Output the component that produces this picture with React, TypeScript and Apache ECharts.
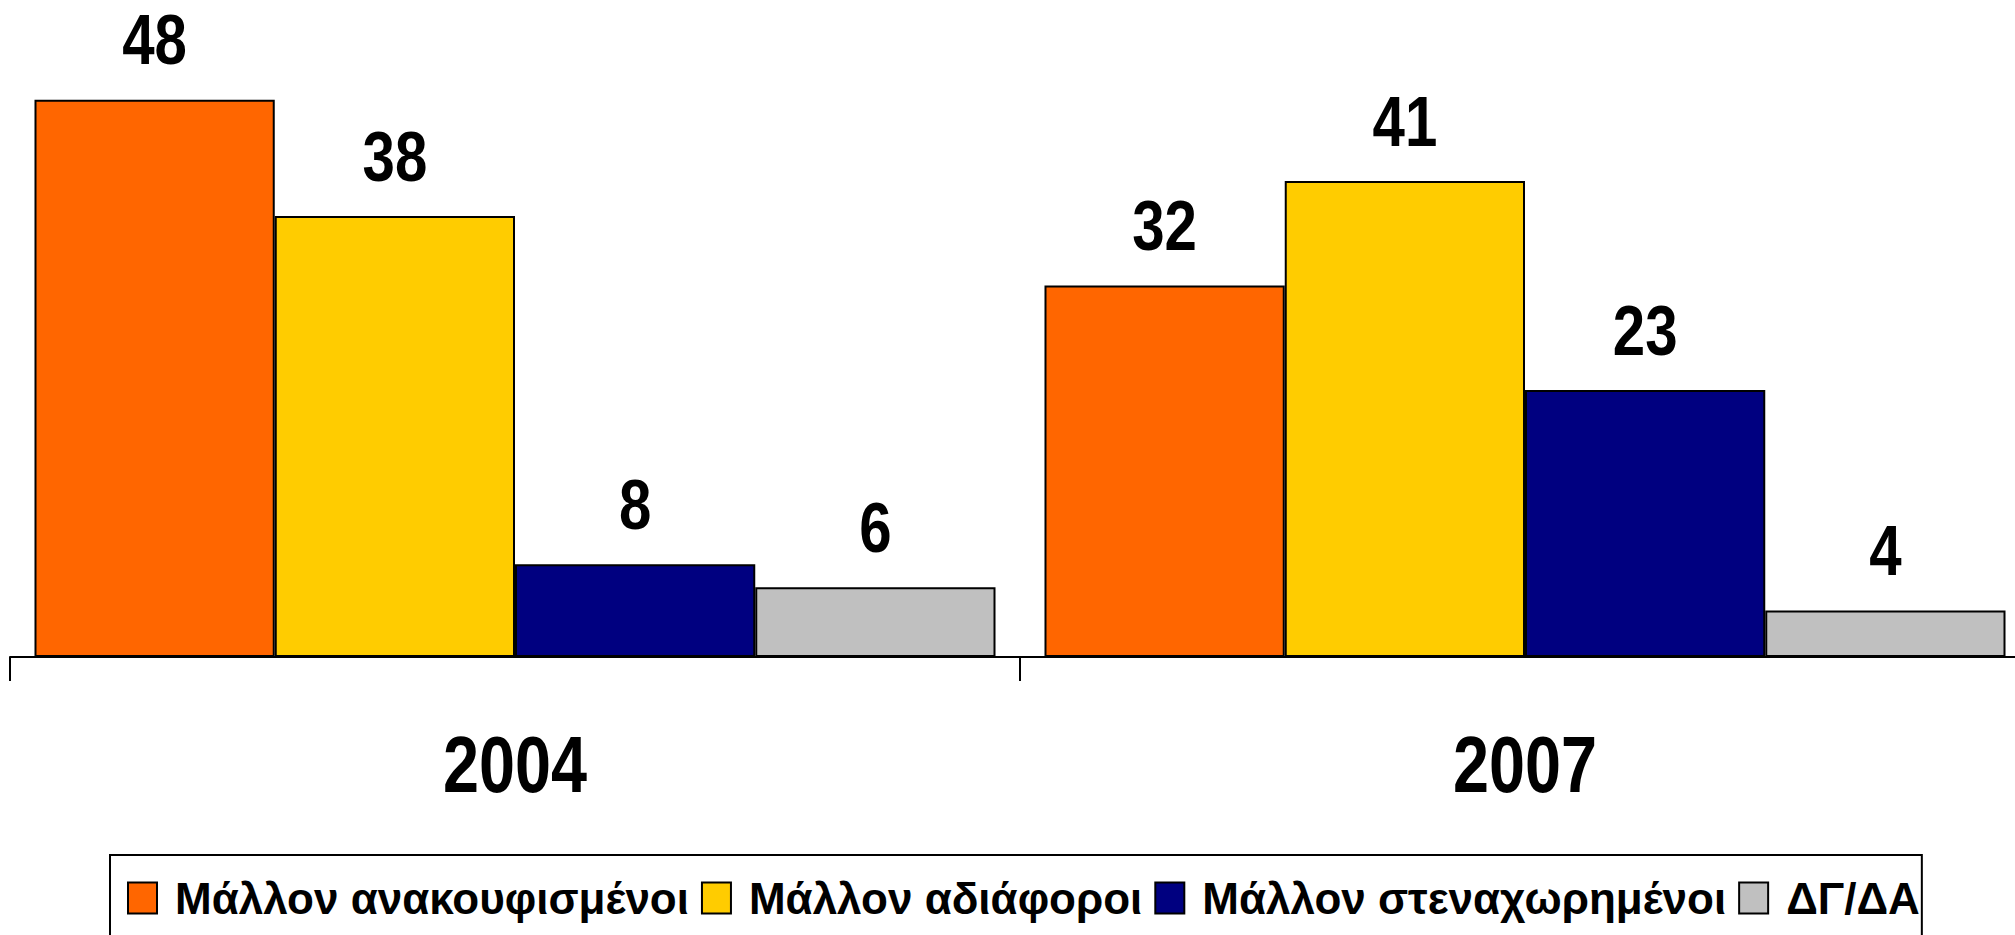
import React, { useEffect, useRef } from "react";
import * as echarts from "echarts";

const categories = ["2004", "2007"];
const seriesNames = ["Μάλλον ανακουφισμένοι", "Μάλλον αδιάφοροι", "Μάλλον στεναχωρημένοι", "ΔΓ/ΔΑ"];
const relieved = [48, 32];
const indifferent = [38, 41];
const upset = [8, 23];
const dkna = [6, 4];
const colors = ["#FF6600", "#FFCC00", "#000080", "#C0C0C0"];

const FONT = "'Liberation Sans', Arial, sans-serif";
const CAT_GAP = 0.0485;

export default function App() {
  const ref = useRef<HTMLDivElement>(null);
  useEffect(() => {
    if (!ref.current) return;
    const chart = echarts.init(ref.current, null, { renderer: "svg" });
    const values = [relieved, indifferent, upset, dkna];
    const nSeries = values.length;

    // value label data: [categoryIndex, seriesIndex, value]
    const labelData: number[][] = [];
    values.forEach((arr, s) => arr.forEach((v, c) => labelData.push([c, s, v])));
    const catLabelData = categories.map((_, i) => [i, 0]);

    chart.setOption({
      animation: false,
      backgroundColor: "#ffffff",
      grid: {
        left: 10,
        width: 2020,
        top: 7,
        height: 650,
        containLabel: false,
        outerBoundsMode: "none",
      },
      legend: {
        left: 110,
        top: 855,
        orient: "horizontal",
        borderColor: "#000000",
        borderWidth: 2,
        padding: [21, 2, 40, 17],
        icon: "rect",
        itemWidth: 29,
        itemHeight: 31,
        itemGap: 12,
        textStyle: {
          fontFamily: FONT,
          fontWeight: "bold",
          fontSize: 44,
          color: "#000000",
          padding: [0, 0, 0, 13],
        },
        data: seriesNames,
      },
      xAxis: {
        type: "category",
        data: categories,
        axisLine: { show: true, lineStyle: { color: "#000000", width: 2 } },
        axisTick: { show: true, length: 24, lineStyle: { color: "#000000", width: 2 } },
        axisLabel: { show: false },
      },
      yAxis: {
        type: "value",
        min: 0,
        max: 56,
        show: false,
        splitLine: { show: false },
      },
      series: [
        ...seriesNames.map((name, i) => ({
          name,
          type: "bar",
          data: values[i],
          barGap: "0%",
          barCategoryGap: CAT_GAP * 100 + "%",
          itemStyle: { color: colors[i], borderColor: "#000000", borderWidth: 2 },
        })),
        {
          name: "valueLabels",
          type: "custom",
          silent: true,
          clip: false,
          data: labelData,
          encode: { x: 0, y: 2 },
          renderItem: (params: any, api: any) => {
            const c = api.value(0);
            const s = api.value(1);
            const v = api.value(2);
            const pt = api.coord([c, v]);
            const band = api.size([1, 0])[0];
            const group = band * (1 - CAT_GAP);
            const bw = group / nSeries;
            const x = pt[0] - group / 2 + (s + 0.5) * bw;
            return {
              type: "text",
              x,
              y: pt[1] - 60,
              scaleX: 0.82,
              style: {
                text: String(v),
                fontFamily: FONT,
                fontWeight: "bold",
                fontSize: 71,
                fill: "#000000",
                textAlign: "center",
                textVerticalAlign: "middle",
              },
            };
          },
        },
        {
          name: "categoryLabels",
          type: "custom",
          silent: true,
          clip: false,
          data: catLabelData,
          encode: { x: 0, y: 1 },
          renderItem: (params: any, api: any) => {
            const pt = api.coord([api.value(0), 0]);
            return {
              type: "text",
              x: pt[0],
              y: pt[1] + 108,
              scaleX: 0.82,
              style: {
                text: categories[params.dataIndex],
                fontFamily: FONT,
                fontWeight: "bold",
                fontSize: 79,
                fill: "#000000",
                textAlign: "center",
                textVerticalAlign: "middle",
              },
            };
          },
        },
      ],
    });
    return () => chart.dispose();
  }, []);
  return (
    <div
      ref={ref}
      style={{ position: "absolute", left: 0, top: 0, width: 2015, height: 935 }}
    />
  );
}
